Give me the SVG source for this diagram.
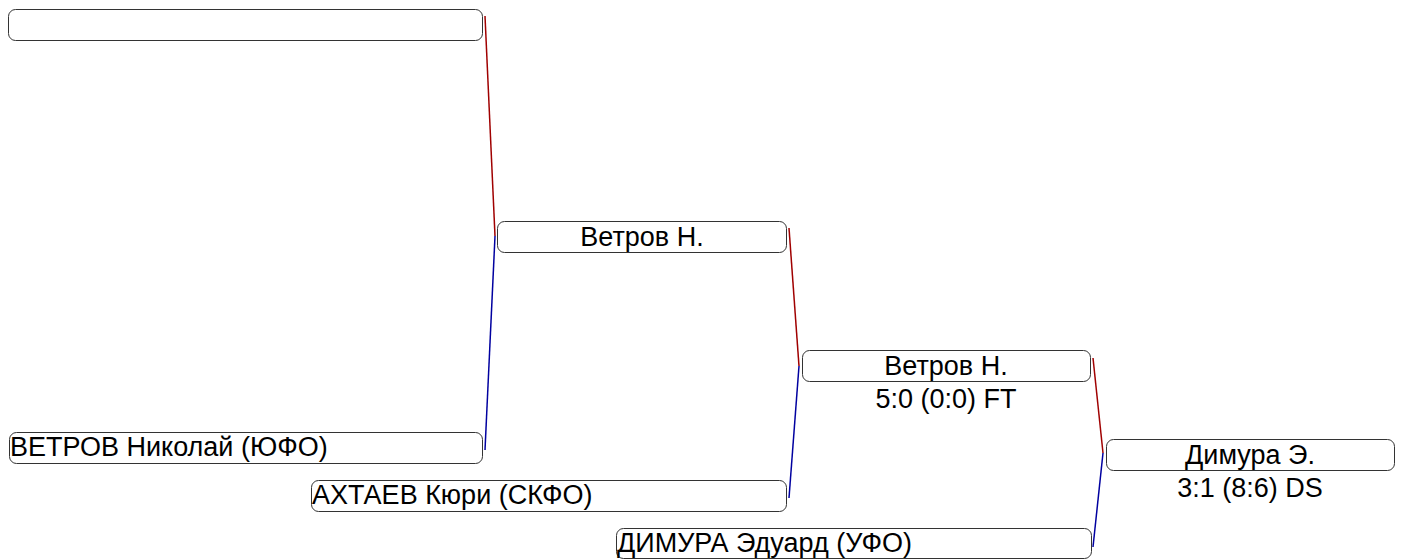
<svg xmlns="http://www.w3.org/2000/svg" width="1401" height="560" viewBox="0 0 1401 560">
<style>
.box{fill:#fff;stroke:#333;stroke-width:1}
.t{font-family:"Liberation Sans",Arial,sans-serif;font-size:27px;fill:#000}
.c{text-anchor:middle}
.r{stroke:#a00000;stroke-width:1.5;fill:none}
.b{stroke:#0000a0;stroke-width:1.5;fill:none}
</style>
<rect width="1401" height="560" fill="#fff"/>
<g id="connectors">
<line class="r" x1="485" y1="16" x2="495" y2="236"/>
<line class="b" x1="495" y1="236" x2="485" y2="450"/>
<line class="r" x1="789" y1="228" x2="799" y2="366"/>
<line class="b" x1="799" y1="366" x2="789" y2="498"/>
<line class="r" x1="1093" y1="358" x2="1103" y2="453"/>
<line class="b" x1="1103" y1="453" x2="1093" y2="547"/>
</g>
<g id="node-empty">
<rect class="box" x="8.5" y="9.5" width="474" height="31" rx="7"/>
</g>
<g id="node-vetrov-r2">
<rect class="box" x="497.5" y="221.5" width="289" height="31" rx="7"/>
<text class="t c" x="642" y="246">Ветров Н.</text>
</g>
<g id="node-vetrov-r3">
<rect class="box" x="802.5" y="350.5" width="288" height="31" rx="7"/>
<text class="t c" x="946" y="375">Ветров Н.</text>
<text class="t c" x="946" y="408">5:0 (0:0) FT</text>
</g>
<g id="node-dimura-final">
<rect class="box" x="1106.5" y="439.5" width="288" height="31" rx="7"/>
<text class="t c" x="1250" y="464">Димура Э.</text>
<text class="t c" x="1250" y="497">3:1 (8:6) DS</text>
</g>
<g id="node-vetrov">
<rect class="box" x="9.5" y="432.5" width="473" height="31" rx="7"/>
<text class="t" x="10" y="456">ВЕТРОВ Николай (ЮФО)</text>
</g>
<g id="node-akhtaev">
<rect class="box" x="311.5" y="480.5" width="475" height="31" rx="7"/>
<text class="t" x="312" y="504">АХТАЕВ Кюри (СКФО)</text>
</g>
<g id="node-dimura">
<rect class="box" x="616.5" y="528.5" width="475" height="30" rx="7"/>
<text class="t" x="617" y="552">ДИМУРА Эдуард (УФО)</text>
</g>
</svg>
